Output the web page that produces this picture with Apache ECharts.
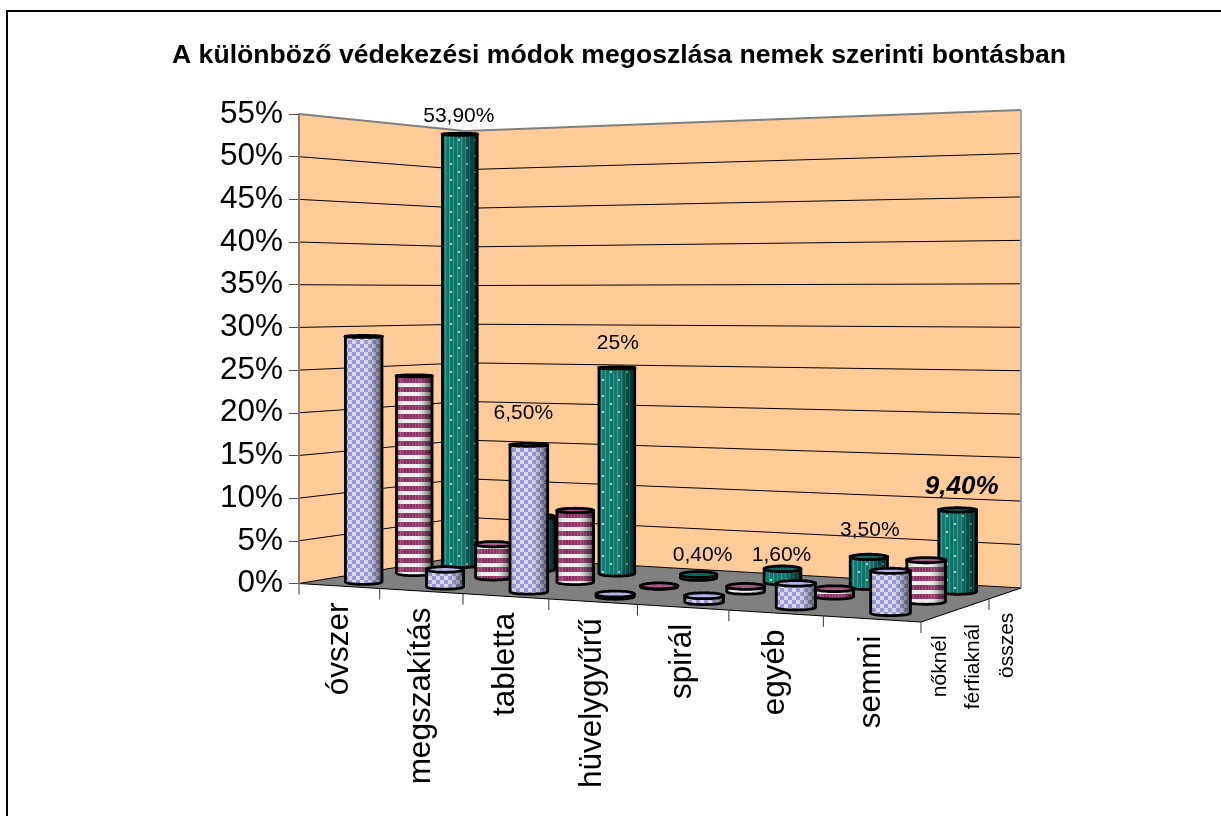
<!DOCTYPE html>
<html><head><meta charset="utf-8">
<style>html,body{margin:0;padding:0;background:#fff}#c{width:1221px;height:816px}</style>
<script src="https://cdn.jsdelivr.net/npm/echarts@6/dist/echarts.min.js"></script>
</head><body><div id="c"></div>
<script>
var categories = ["óvszer","megszakítás","tabletta","hüvelygyűrű","spirál","egyéb","semmi"];
var depthNames = ["nőknél","férfiaknál","összes"];
var valuesNok = [29,2,17,0.3,0.7,2.7,4.7];
var valuesFerfi = [24,4,8.5,0.1,0.6,0.9,4.7];
var valuesOsszes = [53.9,6.5,25,0.4,1.6,3.5,9.4];
var labelsOsszes = ["53,90%","6,50%","25%","0,40%","1,60%","3,50%","9,40%"];
var yTicks = [0,5,10,15,20,25,30,35,40,45,50,55];
var titleText = "A különböző védekezési módok megoszlása nemek szerinti bontásban";

/* view of the box */
var FL=[299,583.5],FR=[921,622],BL=[465,556],BR=[1021,588];
var HT={fl:469.5,fr:500,bl:425,br:478};
var GF=-0.105,GB=-0.1;
var rowT=[[0.15,0.18],[0.46,0.52],[0.74,0.82]];
var labelDX=[-1,-14,1,4,-1,1,4], labelLift=[18,103,25,19,14,27,23];
var FONT='"Liberation Sans",Arial,sans-serif';

function lerp(a,b,t){return a+(b-a)*t;}
function floorPt(u,t){
  var f=u*(1+GF)/(1+GF*u), b=u*(1+GB)/(1+GB*u);
  var p=[lerp(FL[0],FR[0],f),lerp(FL[1],FR[1],f)], q=[lerp(BL[0],BR[0],b),lerp(BL[1],BR[1],b)];
  return [lerp(p[0],q[0],t),lerp(p[1],q[1],t)];
}
function heightAt(u,t){return lerp(lerp(HT.fl,HT.fr,u),lerp(HT.bl,HT.br,u),t);}

function tile(w,h,draw){var c=document.createElement('canvas');c.width=w;c.height=h;draw(c.getContext('2d'));return {image:c,repeat:'repeat'};}
var patBlue=tile(8,8,function(g){g.fillStyle='#D6D6DC';g.fillRect(0,0,8,8);g.fillStyle='#9090E0';g.fillRect(0,0,4,4);g.fillRect(4,4,4,4);});
var patRed=tile(3,9,function(g){g.fillStyle='#EFEFEF';g.fillRect(0,0,3,9);g.fillStyle='#8E2A5E';g.fillRect(0,0,3,5);g.fillStyle='#A04A76';g.fillRect(1,0,1,5);});
var patTeal=tile(16,16,function(g){g.fillStyle='#0A7468';g.fillRect(0,0,16,16);g.fillStyle='#3B9489';for(var i=1;i<16;i+=4)g.fillRect(i,0,1,16);g.fillStyle='#A8CCC6';g.fillRect(2,3,2,2);g.fillRect(10,11,2,2);});
var styles=[
 {pat:patBlue,cap:'#B4B4E4',shade:[[0,'rgba(60,60,60,.35)'],[.2,'rgba(255,255,255,.05)'],[.55,'rgba(255,255,255,.10)'],[.8,'rgba(40,40,40,.3)'],[1,'rgba(0,0,0,.65)']]},
 {pat:patRed,cap:'#A45C84',shade:[[0,'rgba(30,30,30,.45)'],[.25,'rgba(255,255,255,0)'],[.55,'rgba(255,255,255,.05)'],[.8,'rgba(40,40,40,.35)'],[1,'rgba(0,0,0,.7)']]},
 {pat:patTeal,cap:'#0A6A60',shade:[[0,'rgba(255,255,255,.08)'],[.4,'rgba(255,255,255,0)'],[.7,'rgba(0,0,0,.25)'],[1,'rgba(0,0,0,.7)']]}
];

function geom(api){
  var o=api.coord([0,0]), top=api.coord([0,55]), bw=api.size([1,0])[0];
  return {x0:o[0]-bw/2,w:bw*7,y0:o[1],h:o[1]-top[1],bw:bw};
}
function cylinderItem(row){
  return function(params,api){
    var i=api.value(0),v=api.value(1),g=geom(api);
    var u=(api.coord([i,0])[0]-g.x0)/g.w;
    var t=lerp(rowT[row][0],rowT[row][1],u);
    var b=floorPt(u,t);
    var w=(g.y0-api.coord([i,v])[1])/g.h;
    var H=heightAt(u,t)*w;
    var rx=18.4-1.6*t+1.9*u, ryB=2.6, ryT=Math.max(1,3-w*5);
    var cx=b[0],yB=b[1],yT=yB-H;
    var body=[[cx-rx,yT],[cx+rx,yT]];
    for(var a=0;a<=24;a++){var th=a/24*Math.PI;body.push([cx+rx*Math.cos(th),yB+ryB*Math.sin(th)]);}
    var cap=[];
    for(a=0;a<48;a++){th=a/48*2*Math.PI;cap.push([cx+rx*Math.cos(th),yT+ryT*Math.sin(th)]);}
    var s=styles[row];
    var kids=[
      {type:'polygon',shape:{points:body},style:{fill:s.pat}},
      {type:'polygon',shape:{points:body},style:{fill:new echarts.graphic.LinearGradient(0,0,1,0,s.shade.map(function(d){return {offset:d[0],color:d[1]};})),stroke:'#000',lineWidth:2.8}},
      {type:'polygon',shape:{points:cap},style:{fill:s.cap,stroke:'#000',lineWidth:2.8}}
    ];
    if(row===2){
      var bold=i===6;
      kids.push({type:'text',style:{text:labelsOsszes[i],x:cx+labelDX[i],y:yT-labelLift[i],align:'center',verticalAlign:'middle',
        fill:'#000',font:(bold?'italic bold 26px ':'21px ')+FONT}});
    }
    return {type:'group',children:kids};
  };
}
function wallItem(params,api){
  var g=geom(api);
  var tFL=[FL[0],FL[1]-HT.fl],tBL=[BL[0],BL[1]-HT.bl],tBR=[BR[0],BR[1]-HT.br];
  var kids=[
    {type:'polygon',shape:{points:[tFL,tBL,tBR,BR,BL,FL]},style:{fill:'#FFCC99'}},
    {type:'polygon',shape:{points:[FL,BL,BR,FR]},style:{fill:'#808080'}}
  ];
  yTicks.forEach(function(val){
    var w=(g.y0-api.coord([0,val])[1])/g.h;
    var top=val===55;
    var pts=[[FL[0],FL[1]-HT.fl*w],[BL[0],BL[1]-HT.bl*w],[BR[0],BR[1]-HT.br*w]];
    kids.push({type:'polyline',shape:{points:pts},style:{fill:null,stroke:top?'#808080':'#000',lineWidth:top?2:1}});
  });
  kids.push({type:'polyline',shape:{points:[tBR,BR]},style:{fill:null,stroke:'#A0A0A0',lineWidth:2}});
  kids.push({type:'polyline',shape:{points:[FL,FR,BR]},style:{fill:null,stroke:'#000',lineWidth:1}});
  for(var k=0;k<=7;k++){
    var p=floorPt(k/7,0);
    kids.push({type:'line',shape:{x1:p[0],y1:p[1],x2:p[0],y2:p[1]+11},style:{stroke:'#333',lineWidth:1}});
  }
  var q=[lerp(FR[0],BR[0],0.68),lerp(FR[1],BR[1],0.68)];
  kids.push({type:'line',shape:{x1:q[0],y1:q[1],x2:q[0],y2:q[1]+11},style:{stroke:'#333',lineWidth:1}});
  return {type:'group',children:kids};
}
function catLabelItem(params,api){
  var i=api.value(0),g=geom(api);
  var u=(api.coord([i,0])[0]-g.x0)/g.w, p=floorPt(u,0);
  return {type:'text',x:p[0],y:p[1]+16.5,rotation:Math.PI/2,
    style:{text:categories[i],align:'right',verticalAlign:'middle',fill:'#000',font:'31.5px '+FONT}};
}
function depthLabelItem(params,api){
  var d=api.value(0), f=(d+0.5)/3;
  var p=[lerp(FR[0],BR[0],f),lerp(FR[1],BR[1],f)];
  return {type:'text',x:p[0]+2.5,y:p[1]+19,rotation:Math.PI/2,
    style:{text:depthNames[d],align:'right',verticalAlign:'middle',fill:'#000',font:'21px '+FONT}};
}
function rows(vals){return vals.map(function(v,i){return [i,v];});}
function custom(name,item,data,z){return {type:'custom',name:name,coordinateSystem:'cartesian2d',renderItem:item,data:data,z:z,silent:true,clip:false,animation:false};}

var chart=echarts.init(document.getElementById('c'),null,{renderer:'canvas'});
chart.setOption({
  animation:false,
  backgroundColor:'#fff',
  title:{text:titleText,left:172,top:42,padding:0,itemGap:0,
    textStyle:{fontFamily:'"Liberation Sans",Arial,sans-serif',fontWeight:'bold',fontSize:26.6,color:'#000'}},
  graphic:[{type:'rect',shape:{x:7,y:11,width:1300,height:900},style:{fill:null,stroke:'#000',lineWidth:2},silent:true,z:-1}],
  grid:{left:299,right:300,top:114,bottom:232.5},
  xAxis:{type:'category',data:categories,show:false},
  yAxis:{type:'value',min:0,max:55,interval:5,z:5,
    axisLine:{show:true,lineStyle:{color:'#808080',width:2}},
    axisTick:{show:true,length:10,lineStyle:{color:'#555',width:1}},
    splitLine:{show:false},
    axisLabel:{margin:16,fontSize:31.5,color:'#000',fontFamily:'"Liberation Sans",Arial,sans-serif',formatter:'{value}%'}},
  series:[
    custom('fal',wallItem,[[0,0]],1),
    custom('összes',cylinderItem(2),rows(valuesOsszes),2),
    custom('férfiaknál',cylinderItem(1),rows(valuesFerfi),3),
    custom('nőknél',cylinderItem(0),rows(valuesNok),4),
    custom('kategóriák',catLabelItem,categories.map(function(c,i){return [i,0];}),5),
    custom('mélység',depthLabelItem,depthNames.map(function(c,i){return [i,0];}),5)
  ]
});
</script>
</body></html>
